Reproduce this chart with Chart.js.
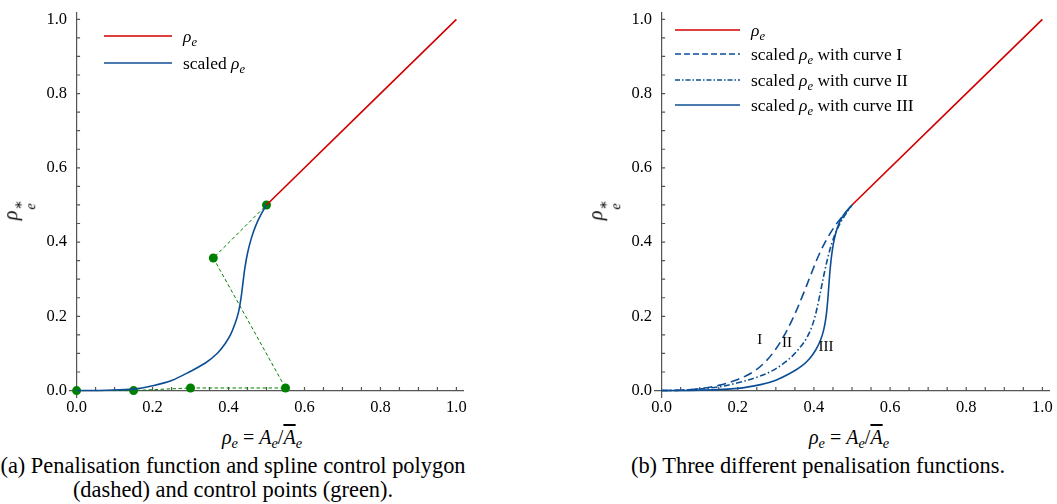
<!DOCTYPE html>
<html>
<head>
<meta charset="utf-8">
<script src="https://cdn.jsdelivr.net/npm/chart.js@4.4.1/dist/chart.umd.min.js"></script>
<style>
  body { margin: 0; width: 1057px; height: 504px; position: relative; background: #fff; overflow: hidden;
         font-family: 'Liberation Serif', 'DejaVu Serif', serif; color: #000; }
  canvas { position: absolute; top: 0; }
  .t { position: absolute; white-space: nowrap; font-size: 20px; line-height: 22px; }
  .c { position: absolute; font-size: 22.4px; line-height: 24px; text-align: center; }
  sub { font-size: 0.72em; vertical-align: -0.3em; line-height: 0; }
  .ov { text-decoration: overline; }
  .eq { margin: 0 5px; }
  .ss { display: inline-flex; flex-direction: column; vertical-align: -0.42em; font-size: 0.72em; line-height: 0.85em; margin-left: 1px; }
  .ylab { transform: translate(-50%, -50%) rotate(-90deg); }
  .lg { position: absolute; display: flex; align-items: center; height: 22px; font-size: 17.5px; white-space: nowrap; }
  .lg svg { margin-right: 11px; }
</style>
</head>
<body>
<canvas id="chartA" width="480" height="420" style="left:0px"></canvas>
<canvas id="chartB" width="472" height="420" style="left:585px"></canvas>

<div class="t ylab" style="left:18px;top:210px"><i>ρ</i><span class="ss"><span>∗</span><i>e</i></span></div>
<div class="t ylab" style="left:603px;top:210px"><i>ρ</i><span class="ss"><span>∗</span><i>e</i></span></div>

<div class="t" style="left:142px;top:426px;width:240px;text-align:center"><i>ρ<sub>e</sub></i><span class="eq">=</span><i>A<sub>e</sub></i>/<i class="ov">A</i><sub><i>e</i></sub></div>
<div class="t" style="left:729px;top:426px;width:240px;text-align:center"><i>ρ<sub>e</sub></i><span class="eq">=</span><i>A<sub>e</sub></i>/<i class="ov">A</i><sub><i>e</i></sub></div>

<div class="c" style="left:0px;top:454px;width:466px">(a) Penalisation function and spline control polygon<br>(dashed) and control points (green).</div>
<div class="c" style="left:590px;top:454px;width:456px">(b) Three different penalisation functions.</div>

<script>
// tick values
const majorTicks = [0, 0.2, 0.4, 0.6, 0.8, 1.0];
const minorTicks = [0, 0.05, 0.1, 0.15, 0.2, 0.25, 0.3, 0.35, 0.4, 0.45, 0.5,
                    0.55, 0.6, 0.65, 0.7, 0.75, 0.8, 0.85, 0.9, 0.95, 1.0];

// rho_e (identity part above 0.5)
const identityX = [0.5, 1.0];
const identityY = [0.5, 1.0];

// (a) scaled rho_e
const scaledX = [0, 0.08, 0.15, 0.2, 0.25, 0.3, 0.34, 0.37, 0.39, 0.405, 0.417, 0.426, 0.433, 0.438, 0.443, 0.45, 0.46, 0.472, 0.486, 0.5];
const scaledY = [0, 0.001, 0.004, 0.013, 0.027, 0.052, 0.075, 0.100, 0.125, 0.150, 0.180, 0.210, 0.250, 0.290, 0.330, 0.370, 0.410, 0.445, 0.475, 0.5];

// (a) spline control polygon
const ctrlX = [0, 0.15, 0.30, 0.55, 0.36, 0.5];
const ctrlY = [0, 0, 0.007, 0.007, 0.357, 0.5];

// (b) curves I, II, III
const curve1X = [0, 0.05, 0.10, 0.15, 0.20, 0.24, 0.27, 0.295, 0.32, 0.345, 0.37, 0.395, 0.415, 0.435, 0.455, 0.478, 0.5];
const curve1Y = [0, 0.001, 0.005, 0.014, 0.030, 0.050, 0.075, 0.105, 0.145, 0.195, 0.255, 0.320, 0.370, 0.410, 0.443, 0.473, 0.5];
const curve2X = [0, 0.07, 0.15, 0.20, 0.25, 0.29, 0.32, 0.345, 0.365, 0.38, 0.393, 0.403, 0.412, 0.42, 0.428, 0.437, 0.448, 0.462, 0.48, 0.5];
const curve2Y = [0, 0.002, 0.010, 0.021, 0.036, 0.053, 0.073, 0.095, 0.118, 0.140, 0.168, 0.200, 0.240, 0.280, 0.320, 0.360, 0.400, 0.437, 0.470, 0.5];
const curve3X = [0, 0.10, 0.20, 0.26, 0.30, 0.34, 0.37, 0.39, 0.405, 0.417, 0.426, 0.432, 0.436, 0.439, 0.442, 0.446, 0.452, 0.462, 0.477, 0.5];
const curve3Y = [0, 0.001, 0.006, 0.016, 0.028, 0.048, 0.068, 0.088, 0.110, 0.135, 0.165, 0.200, 0.240, 0.280, 0.320, 0.360, 0.400, 0.440, 0.472, 0.5];

// curve annotations in (b)
const curveLabels = ['I', 'II', 'III'];
const curveLabelX = [0.258, 0.329, 0.432];
const curveLabelY = [0.137, 0.127, 0.116];

const RED = '#d20000';
const BLUE = '#0c4e96';
const GREEN = '#008000';
const DASH = [9, 5];
const DASHDOT = [6, 2.5, 1.5, 2.5];

function pts(xs, ys) {
  return xs.map((x, i) => ({ x: x, y: ys[i] }));
}

// spines through zero with inward ticks
const zeroAxes = {
  id: 'zeroAxes',
  beforeDatasetsDraw(chart) {
    const { ctx, chartArea: a, scales: { x, y } } = chart;
    const x0 = x.getPixelForValue(0), y0 = y.getPixelForValue(0);
    ctx.save();
    ctx.strokeStyle = '#555';
    ctx.lineWidth = 1.2;
    ctx.beginPath();
    ctx.moveTo(a.left, y0); ctx.lineTo(a.right, y0);
    ctx.moveTo(x0, a.top); ctx.lineTo(x0, a.bottom);
    minorTicks.forEach(v => {
      const px = x.getPixelForValue(v), py = y.getPixelForValue(v);
      ctx.moveTo(px, y0); ctx.lineTo(px, y0 - 3.5);
      ctx.moveTo(x0, py); ctx.lineTo(x0 + 3.5, py);
    });
    ctx.stroke();
    ctx.restore();
  }
};

const curveText = {
  id: 'curveText',
  afterDatasetsDraw(chart) {
    const { ctx, scales: { x, y } } = chart;
    ctx.save();
    ctx.font = '15px "Liberation Serif", serif';
    ctx.fillStyle = '#000';
    ctx.textAlign = 'center';
    ctx.textBaseline = 'middle';
    curveLabels.forEach((s, i) => ctx.fillText(s, x.getPixelForValue(curveLabelX[i]), y.getPixelForValue(curveLabelY[i])));
    ctx.restore();
  }
};

function makeOptions(rightPad) {
  const tickFont = { family: "'Liberation Serif', serif", size: 16.5 };
  return {
    responsive: false,
    animation: false,
    devicePixelRatio: 1,
    events: [],
    layout: { padding: { left: 0, right: rightPad, top: 4, bottom: 0 } },
    plugins: { legend: { display: false }, tooltip: { enabled: false } },
    scales: {
      x: {
        type: 'linear', min: -0.02, max: 1.02,
        afterBuildTicks: s => { s.ticks = majorTicks.map(v => ({ value: v })); },
        afterFit: s => { s.height = 22; },
        ticks: { callback: v => v.toFixed(1), font: tickFont, color: '#000', padding: 0, maxRotation: 0, autoSkip: false },
        grid: { display: false, drawTicks: false },
        border: { display: false }
      },
      y: {
        type: 'linear', min: -0.02, max: 1.02,
        afterBuildTicks: s => { s.ticks = majorTicks.map(v => ({ value: v })); },
        afterFit: s => { s.width = 69; },
        ticks: { callback: v => v.toFixed(1), font: tickFont, color: '#000', padding: 2, autoSkip: false },
        grid: { display: false, drawTicks: false },
        border: { display: false }
      }
    }
  };
}

function lineSet(label, xs, ys, color, dash) {
  return {
    label: label, data: pts(xs, ys), borderColor: color, borderWidth: 1.6,
    borderDash: dash || [], pointRadius: 0, fill: false, tension: 0.35
  };
}

const chartA = new Chart(document.getElementById('chartA'), {
  type: 'line',
  data: {
    datasets: [
      lineSet('scaled', scaledX, scaledY, BLUE),
      lineSet('rho', identityX, identityY, RED),
      {
        label: 'control', data: pts(ctrlX, ctrlY), borderColor: GREEN, borderWidth: 1,
        borderDash: [3.5, 2.5], tension: 0, pointRadius: 4.5, pointBackgroundColor: GREEN,
        pointBorderWidth: 0, clip: false
      }
    ]
  },
  options: makeOptions(16),
  plugins: [zeroAxes]
});

const chartB = new Chart(document.getElementById('chartB'), {
  type: 'line',
  data: {
    datasets: [
      lineSet('I', curve1X, curve1Y, BLUE, DASH),
      lineSet('II', curve2X, curve2Y, BLUE, DASHDOT),
      lineSet('III', curve3X, curve3Y, BLUE),
      lineSet('rho', identityX, identityY, RED)
    ]
  },
  options: makeOptions(7),
  plugins: [zeroAxes, curveText]
});

// legends
const rho = '<i>ρ<sub>e</sub></i>';
function legendRow(left, top, width, color, dash, html) {
  const d = document.createElement('div');
  d.className = 'lg';
  d.style.left = left + 'px';
  d.style.top = (top - 11) + 'px';
  d.innerHTML = '<svg width="' + width + '" height="6"><line x1="0" y1="3" x2="' + width +
    '" y2="3" stroke="' + color + '" stroke-width="1.6" stroke-dasharray="' + (dash.length ? dash.join(',') : 'none') +
    '"/></svg><span>' + html + '</span>';
  document.body.appendChild(d);
}
legendRow(104, 36, 68, RED, [], rho);
legendRow(104, 63, 68, BLUE, [], 'scaled ' + rho);
legendRow(675, 30, 65, RED, [], rho);
legendRow(675, 54, 65, BLUE, [6, 3], 'scaled ' + rho + ' with curve I');
legendRow(675, 80, 65, BLUE, [5, 2, 1.5, 2], 'scaled ' + rho + ' with curve II');
legendRow(675, 105, 65, BLUE, [], 'scaled ' + rho + ' with curve III');
</script>
</body>
</html>
